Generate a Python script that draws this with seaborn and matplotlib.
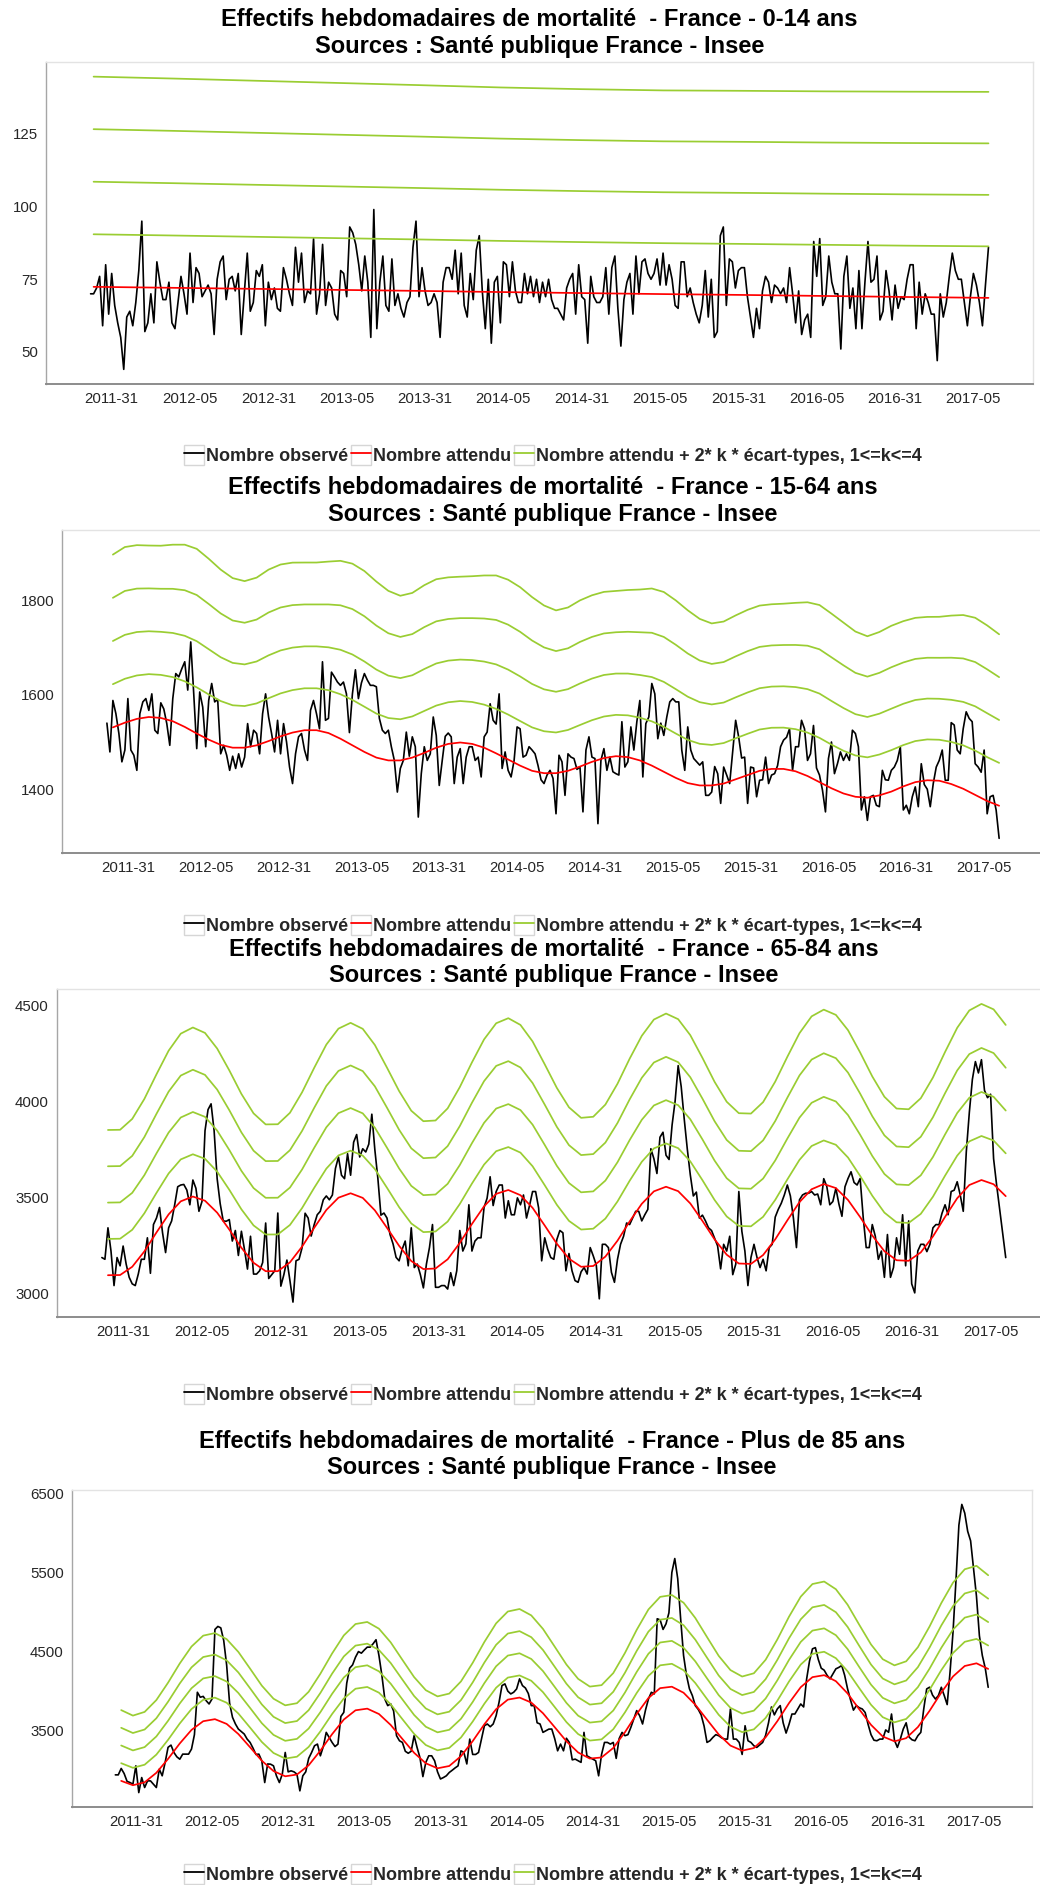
import numpy as np
import matplotlib
matplotlib.use("Agg")
import matplotlib.pyplot as plt
import seaborn as sns
from matplotlib.patches import Rectangle
from matplotlib.lines import Line2D

# ---------------- data (weekly, week index 0 = 2011-24) ----------------
week_tick_labels = ["2011-31", "2012-05", "2012-31", "2013-05", "2013-31", "2014-05",
                    "2014-31", "2015-05", "2015-31", "2016-05", "2016-31", "2017-05"]

# 0-14 ans
obs1 = [70,70,72,76,59,80,63,77,66,60,55,44,62,64,59,67,78,95,
        57,60,70,60,81,74,68,68,74,60,58,67,76,70,63,84,
        67,79,77,69,71,73,70,56,
        75,81,83,68,75,76,71,77,56,70,84,
        64,67,78,76,80,59,74,68,72,65,64,79,75,70,66,86,
        74,84,67,71,70,89,63,70,87,
        66,74,72,63,61,78,77,69,93,
        91,87,80,71,83,74,55,99,
        58,74,83,66,64,82,66,70,65,62,67,69,86,95,
        69,79,71,66,67,70,67,55,
        74,79,79,75,85,70,84,66,62,77,68,85,90,
        71,58,75,53,
        74,76,60,81,80,69,81,71,67,67,77,70,76,69,75,67,74,69,75,68,
        65,65,63,61,72,75,77,63,80,69,68,53,76,69,67,67,69,79,63,79,
        83,65,52,68,74,77,63,83,70,81,82,77,75,77,82,73,84,73,80,75,
        66,65,81,81,69,72,67,63,60,66,78,62,75,55,57,90,93,66,82,81,
        72,78,79,79,69,62,55,65,58,71,76,74,67,73,72,70,72,67,79,70,
        60,71,56,61,63,55,88,76,89,66,69,83,74,70,70,51,76,83,65,72,
        58,78,58,74,88,74,75,83,61,64,78,71,61,73,65,69,68,75,80,80,
        58,74,63,70,67,63,63,47,70,62,67,76,84,78,75,75,67,59,69,77,
        73,67,59,73,86]
exp1 = [72.4, 72.05, 71.7, 71.35, 71.0, 70.6, 70.25, 69.9, 69.6, 69.25, 68.9, 68.6]
sd1 = [9.04, 9.0, 8.95, 8.9, 8.85, 8.8, 8.77, 8.76, 8.78, 8.8, 8.83, 8.86]

# 15-64 ans
obs2 = [1540,1479,1588,1560,1518,1458,1483,1592,1483,1472,1440,1560,1585,1592,1567,1602,1525,1518,1583,1570,
        1539,1493,1592,1645,1638,1655,1670,1610,1712,1602,1486,1606,1574,1490,1588,1624,1585,1590,1475,1493,
        1472,1440,1470,1444,1475,1447,1468,1539,1490,1525,1518,1475,1560,1602,1553,1518,1479,1546,1475,1539,
        1500,1447,1412,1475,1511,1518,1483,1461,1567,1588,1560,1528,1670,1546,1550,1648,1638,1627,1620,1627,
        1602,1520,1602,1653,1592,1625,1645,1631,1620,1620,1617,1550,1525,1518,1525,1490,1461,1394,1444,1461,
        1521,1470,1511,1490,1341,1433,1490,1461,1475,1553,1514,1408,1461,1512,1519,1511,1412,1468,1486,1412,
        1468,1490,1490,1461,1468,1426,1511,1521,1581,1546,1538,1602,1444,1479,1440,1426,1461,1532,1528,1468,
        1472,1490,1483,1475,1450,1420,1412,1430,
        1440,1423,1348,1472,1458,1387,1475,1468,1465,1442,1447,1352,1483,1511,1468,1465,1327,1461,1486,1440,
        1468,1437,1433,1430,1543,1447,1458,1532,1483,1543,1588,1426,1539,1553,1624,1602,1507,1540,1514,1553,
        1585,1592,1585,1585,1483,1440,1532,1483,1465,1458,1451,1458,1387,1387,1394,1448,1433,1370,1447,1430,
        1412,1480,1546,1511,1466,1468,1370,1447,1445,1384,1419,1420,1468,1412,1430,1433,1450,1490,1504,1510,
        1528,1440,1490,1490,1546,1528,1461,1475,1535,1445,1430,1398,1352,1465,1500,1433,1454,1479,1461,1475,
        1461,1525,1518,1490,1356,1384,1334,1384,1387,1366,1363,1440,1420,1419,1440,1447,1461,1490,1356,1366,
        1348,1384,1405,1363,1454,1410,1400,1363,1412,1447,1461,1483,1419,1419,1541,1536,1483,1475,1528,1564,
        1550,1543,1454,1447,1436,1483,1348,1384,1387,1356,1296]
exp2 = [1531,1541,1549,1553,1551,1544,1532,1518,1505,1494,1488,1488,1493,1502,1512,1520,1525,1525,1519,1507,
        1493,1479,1467,1461,1461,1467,1477,1488,1496,1499,1496,1488,1476,1463,1450,1439,1434,1434,1439,1448,
        1458,1466,1470,1468,1461,1450,1437,1424,1413,1408,1408,1412,1421,1430,1439,1443,1443,1438,1428,1415,
        1402,1391,1384,1382,1387,1395,1406,1415,1419,1418,1411,1401,1388,1375,1365]
sd2 = [45.75,46.5,46,45.4,45.6,46.75,48.25,48.9,47.9,46.4,44.9,44.1,44.4,45.4,45.5,45,44.4,44.4,45.4,47.1,
       48.1,47.9,46.6,44.9,43.6,43.6,44.4,44.6,44.1,43.9,44.4,45.6,47.1,47.6,47.25,46,44.4,43.1,43.25,44,
       44.1,44,43.75,44.25,45.25,46.9,47.6,47,45.75,44.1,42.9,42.9,43.4,43.75,43.75,43.6,43.75,44.6,46,46.9,
       46.25,45.25,43.75,42.75,43.25,43.9,43.75,43.5,43.25,43.4,44.6,46,46.9,46.5,45.4]

# 65-84 ans
obs3 = [3189,3180,3344,3223,3043,3189,3146,3249,3155,3086,3052,3043,3103,3180,3180,3292,3107,3361,3395,3450,
        3318,3215,3344,3380,3464,3558,3567,3570,3541,3464,3593,3550,3430,3481,3850,3960,3990,3850,3600,3470,
        3380,3378,3387,3275,3330,3200,3326,3232,3129,3300,3103,3103,3120,3163,3369,3080,3100,3120,3421,3040,
        3100,3176,3069,2957,3172,3180,3240,3420,3395,3301,3361,3412,3430,3490,3510,3490,3515,3653,3713,3618,
        3600,3730,3618,3790,3830,3713,3756,3739,3780,3936,3750,3600,3410,3421,3395,3309,3260,3190,3172,3232,
        3275,3146,3344,3137,3155,3100,3031,3155,3241,3361,3034,3034,3043,3043,3025,3110,3043,3120,3330,3223,
        3260,3464,3223,3275,3292,3292,3450,3498,3610,3460,3533,3567,3567,3395,3485,3412,3412,3500,3464,3515,
        3395,3460,3533,3533,3447,3172,3292,3232,3189,
        3180,3283,3330,3318,3120,3210,3120,3069,3060,3115,3137,3103,3241,3198,3150,2974,3258,3258,3241,3112,
        3060,3180,3258,3300,3369,3361,3395,3430,3430,3380,3412,3440,3756,3704,3627,3816,3842,3722,3700,3880,
        4005,4189,4080,3911,3756,3620,3510,3530,3395,3410,3380,3344,3330,3290,3250,3130,3258,3223,3300,3100,
        3155,3533,3326,3223,3043,3189,3258,3189,3137,3180,3120,3240,3258,3400,3440,3472,3515,3567,3510,3395,
        3241,3490,3515,3524,3524,3533,3515,3520,3464,3600,3560,3464,3481,3550,3468,3404,3558,3601,3636,3580,
        3567,3601,3400,3241,3241,3361,3300,3180,3223,3086,3309,3086,3137,3292,3206,3412,3146,3380,3052,3005,
        3223,3258,3258,3220,3258,3344,3361,3360,3420,3464,3412,3533,3540,3584,3515,3430,3740,3945,4117,4210,
        4151,4220,4060,4022,4040,3704,3567,3440,3309,3189]
exp3 = [3097,3098,3141,3221,3320,3414,3482,3507,3485,3423,3335,3240,3162,3118,3118,3164,3246,3344,3437,3501,
        3524,3500,3435,3344,3250,3171,3129,3132,3180,3265,3364,3456,3521,3541,3514,3448,3356,3261,3183,3141,
        3145,3194,3277,3377,3469,3534,3558,3535,3471,3380,3284,3204,3158,3156,3202,3284,3383,3478,3545,3572,
        3551,3489,3400,3304,3222,3175,3172,3216,3299,3401,3498,3567,3593,3571,3509]
sd3 = [94.6,94.6,96.3,99.3,103.0,106.6,109.2,110.1,109.3,106.9,103.7,100.2,97.3,95.6,95.7,97.4,100.5,104.2,107.7,110.1,
       111.0,110.1,107.7,104.3,100.8,97.9,96.3,96.4,98.3,101.5,105.2,108.7,111.1,111.9,110.9,108.4,105.0,101.5,98.6,97.0,
       97.2,99.0,102.2,106.0,109.4,111.9,112.8,112.0,109.6,106.2,102.6,99.6,97.9,97.9,99.6,102.7,106.5,110.0,112.6,113.6,
       112.8,110.6,107.2,103.6,100.6,98.8,98.7,100.4,103.5,107.4,111.0,113.7,114.7,113.9,111.5]

# Plus de 85 ans
obs4 = [2942,2942,3023,2959,2860,2845,2824,3056,2718,2908,2782,2866,2866,2824,2782,3014,2930,3099,3290,3318,
        3225,3170,3140,3204,3204,3204,3268,3450,3986,3923,3934,3880,3838,3901,4780,4818,4800,4640,4330,3850,
        3669,3585,3521,3490,3458,3394,3352,3280,3200,3204,3120,2845,3080,3077,3056,2930,2845,2951,3225,2980,
        2993,2980,2951,2740,2930,2980,3149,3225,3310,3331,3183,3300,3479,3415,3352,3300,3330,3680,3732,4100,
        4290,4332,4430,4500,4480,4520,4556,4556,4599,4650,4450,4200,3900,3817,3840,3750,3437,3373,3352,3240,
        3215,3240,3437,3290,3160,2920,3099,3183,3183,3120,2980,2890,2908,2930,2972,3000,3030,3056,3246,3225,
        3080,3394,3200,3200,3225,3394,3563,3585,3550,3585,3690,3859,4070,4092,4000,3965,3986,4028,4155,4070,
        4040,3970,3817,3817,3600,3585,3479,3500,3520,
        3521,3400,3246,3331,3246,3405,3352,3132,3141,3120,3100,3479,3183,3162,3141,3120,2930,3200,3352,3352,
        3331,3352,3150,3400,3479,3437,3450,3542,3648,3754,3690,3585,3760,3900,3986,3965,4915,4900,4780,4850,
        4990,5500,5676,5422,4915,4450,4200,4030,3944,3817,3770,3700,3560,3352,3373,3415,3450,3437,3410,3394,
        3394,3775,3394,3394,3352,3200,3563,3373,3352,3310,3289,3320,3352,3440,3600,3800,3700,3775,3817,3600,
        3470,3580,3711,3711,3775,3838,3800,4150,4380,4535,4550,4400,4290,4265,4200,4155,4218,4282,4300,4324,
        4200,4028,3890,3760,3817,3790,3775,3730,3580,3450,3380,3373,3394,3394,3510,3480,3711,3380,3289,3394,
        3521,3600,3420,3385,3373,3437,3479,3775,4028,4050,3950,3900,3944,4049,3944,3830,4250,4750,5400,6098,
        6360,6250,6020,5900,5550,5200,4700,4450,4290,4049]
exp4 = [2866,2811,2848,2968,3144,3339,3510,3620,3646,3586,3458,3291,3121,2990,2924,2946,3063,3248,3456,3641,
        3758,3779,3711,3573,3396,3221,3088,3025,3054,3178,3368,3582,3772,3893,3919,3856,3721,3545,3367,3225,
        3148,3162,3282,3482,3711,3913,4038,4056,3980,3829,3640,3453,3312,3248,3281,3416,3620,3849,4050,4177,
        4202,4126,3971,3770,3574,3427,3366,3406,3546,3752,3983,4186,4318,4352,4281]
sd4 = [111.8,110,111.2,114.9,120.4,126.4,131.7,135.2,136,133.9,129.7,124.2,118.6,114.3,112.1,112.7,116.1,121.5,127.5,132.9,
       136.3,136.9,134.8,130.5,125,119.6,115.5,113.6,114.4,118.1,123.7,130,135.6,139.2,139.9,137.7,133.2,127.2,121.2,116.3,
       113.7,114.2,118.3,125.2,133,139.9,144.2,144.8,142.2,137,130.5,124.1,119.3,117.1,118.1,122.5,129.1,136.5,143,147.1,
       147.9,145.3,140.2,133.5,127,122.1,120,121.4,126.2,133.3,141.3,148.2,152.8,154,148]

age_groups = ["0-14 ans", "15-64 ans", "65-84 ans", "Plus de 85 ans"]
yticks = [[50, 75, 100, 125], [1400, 1600, 1800], [3000, 3500, 4000, 4500], [3500, 4500, 5500, 6500]]
legend_labels = ["Nombre observé", "Nombre attendu",
                 "Nombre attendu + 2* k * écart-types, 1<=k<=4"]

# ---------------- style ----------------
sns.set_theme(style="white")
plt.rcParams['font.family'] = ['Liberation Sans', 'DejaVu Sans']

W, H = 1040, 1885
fig = plt.figure(figsize=(W / 100, H / 100), dpi=100)
fig.patch.set_facecolor("white")

C_OBS, C_EXP, C_BAND = "black", "#ff0000", "#9acd32"

# layout (pixels): left, top, px per week, height, title line y's, legend y
layout = [
    dict(left=45.7, top=62, pxw=3.013, h=322, ty=(20, 46), ly=455),
    dict(left=62.3, top=530, pxw=2.994, h=323, ty=(488, 514), ly=925),
    dict(left=56.7, top=989, pxw=3.033, h=328, ty=(949, 975), ly=1394),
    dict(left=71.7, top=1490, pxw=2.929, h=317, ty=(1441, 1467), ly=1874),
]
series = [(obs1, exp1, sd1, 1, 27), (obs2, exp2, sd2, 2, 4),
          (obs3, exp3, sd3, 2, 4), (obs4, exp4, sd4, 2, 4)]

XMIN, XMAX = -14.9, 312.9

for p in range(4):
    L = layout[p]
    obs, exp_, sd, start, step = series[p]
    obs = np.asarray(obs, float)
    exp_ = np.asarray(exp_, float)
    sd = np.asarray(sd, float)
    x_obs = np.arange(len(obs))
    x_exp = start + step * np.arange(len(exp_))

    wpx = (XMAX - XMIN) * L["pxw"]
    ax = fig.add_axes([L["left"] / W, 1 - (L["top"] + L["h"]) / H, wpx / W, L["h"] / H])
    ax.set_facecolor("white")

    sns.lineplot(x=x_obs, y=obs, ax=ax, color=C_OBS, linewidth=1.2, estimator=None, legend=False)
    sns.lineplot(x=x_exp, y=exp_, ax=ax, color=C_EXP, linewidth=1.25, estimator=None, legend=False)
    for k in range(1, 5):
        sns.lineplot(x=x_exp, y=exp_ + 2 * k * sd, ax=ax, color=C_BAND, linewidth=1.25,
                     estimator=None, legend=False)

    lo = min(obs.min(), exp_.min())
    hi = max(obs.max(), (exp_ + 8 * sd).max())
    pad = 0.05 * (hi - lo)
    ax.set_ylim(lo - pad, hi + pad)
    ax.set_xlim(XMIN, XMAX)
    ax.set_xticks(7 + 26 * np.arange(len(week_tick_labels)))
    ax.set_xticklabels(week_tick_labels)
    ax.set_yticks(yticks[p])
    ax.set_yticklabels([str(v) for v in yticks[p]])
    ax.set_xlabel("")
    ax.set_ylabel("")
    ax.grid(False)
    ax.tick_params(axis="both", direction="out", length=3.2, width=0.9, color="#7f7f7f",
                   labelcolor="#262626", labelsize=10.8, pad=2.5)
    for s in ("top", "right"):
        ax.spines[s].set_color("#e3e3e3")
        ax.spines[s].set_linewidth(1.0)
    ax.spines["left"].set_color("#a6a6a6")
    ax.spines["left"].set_linewidth(1.0)
    ax.spines["bottom"].set_color("#8c8c8c")
    ax.spines["bottom"].set_linewidth(1.4)

    cx = (L["left"] + L["left"] + wpx) / 2
    title1 = "Effectifs hebdomadaires de mortalité  - France - " + age_groups[p]
    fig.text(cx / W, 1 - L["ty"][0] / H, title1, ha="center", va="center",
             fontsize=17, fontweight="bold", color="black")
    fig.text(cx / W, 1 - L["ty"][1] / H, "Sources : Santé publique France - Insee",
             ha="center", va="center", fontsize=17, fontweight="bold", color="black")

    handles = [(Rectangle((0, 0), 1, 1, facecolor="white", edgecolor="#d6d6d6", linewidth=1.0),
                Line2D([0], [0], color=c, linewidth=1.3)) for c in (C_OBS, C_EXP, C_BAND)]
    fig.legend(handles, legend_labels, loc="center", bbox_to_anchor=(553 / W, 1 - L["ly"] / H),
               ncol=3, frameon=False, prop=dict(weight="bold", size=13),
               handlelength=1.1, handleheight=1.3, handletextpad=0.12, columnspacing=0.15,
               borderpad=0.1)

fig.savefig("out.png", dpi=100, facecolor="white")
